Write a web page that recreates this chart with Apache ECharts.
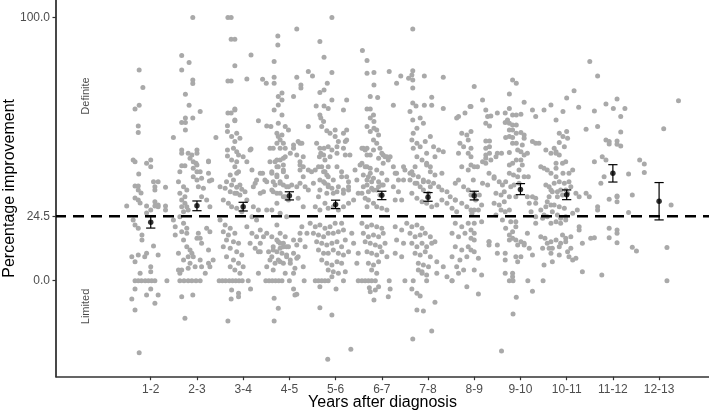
<!DOCTYPE html>
<html>
<head>
<meta charset="utf-8">
<script src="https://cdn.jsdelivr.net/npm/echarts@6/dist/echarts.min.js"></script>
<style>
  html, body { margin: 0; padding: 0; background: #fff; }
  #chart { width: 709px; height: 414px; }
</style>
</head>
<body>
<div id="chart"></div>
<script>
// categories and summary values
const cats = ['1-2', '2-3', '3-4', '4-5', '5-6', '6-7', '7-8', '8-9', '9-10', '10-11', '11-12', '12-13'];
const meanVals = [22.2, 28.5, 28.1, 32.3, 29.0, 32.5, 31.7, 32.3, 34.7, 32.7, 40.8, 30.2];
const lowVals = [20.0, 26.6, 26.5, 30.7, 27.4, 30.8, 30.2, 30.7, 32.7, 30.8, 37.5, 23.1];
const highVals = [24.4, 30.3, 29.8, 33.8, 30.6, 34.0, 33.5, 34.0, 36.9, 34.5, 44.1, 37.3];
const yTicks = [0, 24.5, 100];
const refLine = 24.5;

// individual patients, [jittered x, improvement]
const pts12 = [[0.75,80.1],[0.83,73.4],[0.66,65.3],[0.75,66.7],[0.73,58.8],[0.73,56.3],[0.62,45.9],[0.66,45.2],[0.91,44.6],[1.0,45.9],[1.0,43.3],[0.74,40.6],[0.66,36],[0.73,36],[0.73,34.5],[1.06,37.6],[1.16,37.6],[1.09,35.7],[1.09,34.5],[0.48,28.4],[0.66,31.4],[0.73,30.7],[0.77,29.5],[0.91,28.4],[1.09,28.4],[1.16,28.1],[1.32,35.5],[1.32,28.4],[1.32,26.9],[0.62,23.1],[0.66,21.2],[0.73,19.9],[0.81,17.4],[0.81,15.5],[1.06,13.2],[0.59,9.1],[0.66,7.2],[0.73,9.8],[0.91,10.4],[0.87,9.1],[1.16,9.8],[1.0,5.3],[1.0,3.4],[0.77,2.8],[1.35,0],[0.66,0],[0.73,0],[0.8,0],[0.88,0],[0.95,0],[1.02,0],[1.09,0],[0.66,-3.2],[1.0,-3.2],[0.59,-7],[0.91,-5.4],[1.16,-5.4],[1.09,-8.6],[0.66,-11.1],[0.75,-27.4],[0.79,33.3],[0.91,25.7],[1.0,26.9],[1.16,28.8],[1.09,30]];
const pts23 = [[1.91,100],[1.67,85.6],[1.67,80.1],[1.83,82.9],[1.91,76.3],[1.91,75],[1.75,70.9],[1.83,66.7],[2.07,64.3],[1.75,61.8],[1.91,61.8],[1.67,60.1],[1.75,60.1],[1.75,57.3],[1.49,54.4],[2.41,54.4],[1.67,49.7],[1.67,48.4],[1.81,48.4],[1.89,47.8],[2.0,49.7],[2.0,48.4],[1.85,46.5],[1.92,45.2],[2.0,44],[1.92,42.7],[2.0,41.4],[2.1,38.9],[2.25,45.2],[2.27,37.9],[1.63,41.4],[1.6,37.6],[1.71,35.7],[1.78,34.5],[1.63,33.2],[1.74,31.9],[1.67,30.7],[1.74,29.4],[1.67,28.1],[1.78,28.1],[1.71,26.2],[1.81,26.9],[1.92,39.5],[2.0,38.3],[2.03,35.7],[2.14,35.1],[2.32,38.3],[2.1,31.9],[2.21,30.7],[2.28,28.1],[1.49,23.1],[1.53,20.5],[1.53,17.4],[1.63,24.3],[1.71,21.8],[1.78,19.9],[1.67,18.6],[1.78,18],[1.71,15.5],[1.78,12.9],[1.85,11.7],[1.89,10.4],[1.81,9.1],[1.92,9.1],[1.85,6.6],[1.96,5.3],[2.0,16.1],[2.03,18],[2.1,14.2],[2.21,19.9],[2.28,18.6],[1.6,10.4],[1.71,7.9],[1.63,2.8],[1.6,4.1],[2.07,7.9],[2.1,5.3],[2.25,6.6],[2.28,5.3],[1.63,0],[1.72,0],[1.81,0],[1.89,0],[1.98,0],[2.07,0],[2.18,2.8],[1.67,-6.1],[1.91,-5.4],[1.74,-14.3],[2.25,11.7],[2.35,7.9],[2.07,16.1],[1.67,4.1],[1.81,4.7],[2.25,45.5],[2.07,41.4],[2.25,40.8],[1.67,43.7],[1.74,43.7],[1.98,44.6]];
const pts34 = [[2.67,100],[2.74,100],[2.74,91.8],[2.82,91.8],[2.82,81.7],[2.74,75.9],[2.67,75.9],[3.17,85.8],[3.08,76.7],[2.82,65.3],[2.82,61.1],[2.9,47.8],[3.0,47.1],[3.08,45.2],[2.82,43.3],[2.86,40.8],[2.79,38.3],[2.93,36.4],[3.04,33.8],[2.86,33.2],[2.67,63.7],[2.74,63.7],[2.82,64.9],[3.17,50.1],[2.66,58.9],[2.82,60.8],[2.66,56.7],[2.75,54.8],[2.86,56],[2.82,52.9],[2.93,54.1],[2.79,50.3],[2.86,49],[2.66,49.7],[2.66,47.4],[2.75,45.9],[2.86,45.2],[2.9,41.4],[2.72,40.2],[2.64,37.6],[2.75,36.4],[2.86,35.5],[2.97,34.8],[2.5,35.7],[2.61,35.1],[2.72,33.8],[2.82,33.2],[2.93,32.6],[2.57,30.7],[2.68,29.4],[2.75,28.1],[2.86,27.5],[2.97,26.2],[3.15,49.7],[3.19,42.1],[3.29,38.3],[3.37,33.2],[3.22,35.7],[3.08,30.7],[3.22,28.1],[3.33,26.9],[3.19,24.3],[3.29,23.1],[2.5,23.1],[2.61,21.2],[2.72,19.9],[2.57,18.6],[2.68,17.4],[2.82,18],[2.64,15.5],[2.79,14.8],[2.9,14.2],[2.57,12.9],[2.72,12.3],[2.86,11],[2.97,9.8],[2.64,9.1],[2.79,7.9],[2.9,6.6],[3.0,5.3],[2.82,4.1],[2.93,2.8],[2.72,5.3],[3.08,20.5],[3.19,18],[3.29,16.7],[3.15,14.2],[3.26,12.3],[3.37,11],[2.48,0],[2.55,0],[2.62,0],[2.7,0],[2.77,0],[2.84,0],[2.91,0],[2.98,0],[3.11,0],[3.33,2.8],[2.75,-3.5],[2.9,-4.8],[2.74,-7],[2.9,-6.1],[2.67,-15.3],[3.16,-3.2]];
const pts45 = [[3.75,93],[3.75,89.6],[4.16,95.7],[3.67,83.3],[3.42,76.6],[3.5,75.1],[3.67,77.3],[3.67,75.1],[3.84,71.3],[3.76,70],[3.84,68.7],[3.76,66.8],[4.09,70],[4.16,77.3],[4.25,74.4],[4.25,73.2],[3.67,64.9],[3.84,63],[3.76,59.8],[3.91,58.6],[3.98,57.3],[3.33,60.8],[3.51,58.8],[3.6,58.6],[3.73,56],[3.76,54.8],[3.84,55.4],[3.8,53.5],[3.73,52.2],[3.87,52.2],[3.58,50.3],[3.65,50.3],[3.8,50.3],[3.91,50.3],[4.09,50.3],[4.09,51.6],[4.23,52.2],[4.02,48.4],[4.16,47.8],[4.3,47.1],[3.58,45.2],[3.69,45.2],[3.8,45.9],[3.91,47.1],[3.76,43.3],[3.87,42.1],[4.23,44],[4.23,42.1],[4.3,39.5],[3.62,40.8],[3.73,39.5],[3.8,37.6],[3.69,36.4],[3.87,36.4],[3.98,35.7],[3.65,33.8],[3.8,33.2],[3.91,31.9],[3.51,37.6],[3.37,40.8],[3.26,37],[3.44,33.8],[3.42,40.8],[4.05,36.4],[4.16,35.7],[4.41,34.5],[3.73,45.9],[3.87,46.5],[3.73,43.3],[3.87,44],[3.62,41.4],[3.73,40.2],[3.87,41.4],[3.94,39.5],[3.65,37.6],[3.8,37],[3.94,35.7],[3.62,34.5],[3.73,33.2],[3.87,31.9],[3.98,30.7],[3.73,29.4],[3.62,26.9],[3.8,25.6],[3.94,24.3],[3.47,38.3],[3.51,26.9],[3.37,19.3],[3.51,18],[3.62,16.7],[3.73,15.5],[3.8,14.2],[3.87,12.9],[3.94,12.9],[3.65,12.9],[3.73,11],[3.84,10.4],[3.94,9.8],[3.62,9.1],[3.76,7.9],[3.87,6.6],[4.02,7.9],[4.09,10.4],[3.51,5.3],[3.65,4.1],[3.91,2.8],[4.09,2.8],[3.73,21.2],[3.8,18],[3.91,16.7],[3.76,14.8],[3.87,14.2],[3.98,12.9],[3.8,12.3],[3.65,11.7],[3.55,11],[4.09,15.5],[4.16,13.6],[3.44,16.7],[3.37,14.2],[3.33,11],[3.58,7.9],[3.69,6.6],[3.8,7.2],[3.94,9.1],[4.02,6.6],[4.12,4.7],[4.16,8.5],[4.23,18],[4.19,52.9],[4.27,52.2],[4.41,58.6],[4.23,45.2],[4.3,43.3],[4.41,42.1],[4.23,37],[4.34,35.7],[4.19,31.3],[4.3,28.1],[4.27,20.5],[4.38,18],[4.23,15.5],[4.34,12.9],[4.19,9.1],[4.3,5.3],[3.49,0],[3.56,0],[3.63,0],[3.7,0],[3.77,0],[3.84,0],[4.0,0],[4.32,0],[3.67,-6.7],[3.76,-10.5],[3.67,-15.3],[4.09,-3.2],[4.16,-5.2],[4.12,-5.4]];
const pts56 = [[4.92,100],[4.66,90.9],[4.75,84.9],[4.41,79.5],[4.5,77.8],[4.66,71.5],[4.75,72.5],[4.82,75.1],[4.92,79.1],[4.58,66.4],[4.75,66.4],[4.84,65.5],[4.92,68.7],[4.66,63],[4.68,61.8],[4.74,60.5],[4.7,58.6],[4.81,57],[4.59,52.2],[4.66,50.3],[4.75,50.3],[4.84,50.9],[4.68,48.4],[4.65,47.1],[4.77,45.9],[4.88,47.1],[4.92,49.7],[4.99,54.8],[5.03,50.9],[5.17,50.3],[5.24,53.5],[5.17,64.9],[5.24,68.7],[4.99,57.3],[5.03,48.4],[5.21,47.8],[5.31,47.8],[4.63,43.3],[4.74,41.4],[4.81,40.2],[4.66,38.3],[4.77,37],[4.66,34.5],[4.84,35.7],[4.95,38.3],[5.13,39.5],[5.24,39.5],[5.03,33.8],[5.17,33.2],[5.28,35.7],[4.48,41.4],[4.88,56],[5.06,52.9],[5.21,52.9],[5.17,56],[5.24,57.3],[4.74,47.8],[4.7,43.3],[4.84,43.3],[4.77,41.4],[4.84,39.5],[4.74,37.6],[4.84,36.4],[4.92,35.1],[4.81,33.2],[4.95,33.2],[5.03,43.3],[5.13,41.4],[5.28,37.6],[5.06,35.7],[5.17,34.5],[5.28,34.5],[4.56,42.1],[4.52,37],[4.63,31.9],[4.56,28.1],[4.66,26.9],[4.77,29.4],[4.84,27.5],[4.95,28.1],[5.06,26.9],[5.17,28.1],[5.28,29.4],[5.42,42.1],[5.46,38.3],[5.49,33.2],[5.39,30.7],[4.45,21.8],[4.56,20.5],[4.66,21.2],[4.77,19.9],[4.88,20.5],[4.99,21.8],[5.13,21.8],[4.52,18],[4.63,17.4],[4.74,16.7],[4.84,18],[4.95,18],[5.06,18.6],[5.17,19.3],[4.59,14.8],[4.7,14.2],[4.81,13.6],[4.92,14.2],[5.03,14.8],[5.13,12.9],[5.21,15.5],[4.63,11.7],[4.74,10.4],[4.84,10.4],[4.95,11.7],[5.06,10.4],[5.17,9.8],[5.28,11],[4.7,7.9],[4.81,6.6],[4.92,6],[5.03,7.2],[5.13,6.6],[4.84,4.1],[4.95,3.4],[5.06,2.8],[5.21,3.4],[4.92,1.5],[5.35,18],[5.39,14.2],[5.49,10.4],[5.46,6.6],[4.56,0],[4.63,0],[4.7,0],[4.77,0],[4.84,0],[5.17,0],[4.66,-2.3],[5.01,-3.2],[4.66,-10.3],[4.92,-13],[5.33,-26.1],[4.83,-29.9]];
const pts67 = [[5.58,87.5],[5.68,83.7],[5.68,78.9],[5.83,79.1],[5.83,74.4],[6.16,79.5],[6.25,66.7],[5.75,70],[5.91,69.6],[5.68,65.3],[5.75,65.3],[5.82,63],[5.75,61.8],[5.83,60.5],[5.68,58.6],[5.75,56.7],[5.83,57.9],[5.89,57.3],[5.93,55.4],[5.82,53.5],[5.89,52.2],[5.96,50.3],[5.82,49.7],[5.75,47.8],[5.93,46.5],[6.03,47.8],[6.11,47.1],[5.68,50.3],[5.6,50.3],[5.68,47.8],[5.57,44.6],[5.68,43.3],[5.75,40.8],[5.6,40.2],[5.68,38.3],[5.78,37.6],[5.89,42.1],[6.0,40.8],[5.6,35.7],[5.71,33.8],[5.82,34.5],[5.93,35.7],[6.03,36.4],[6.11,38.3],[6.18,47.1],[6.25,43.3],[6.32,40.8],[6.0,48.4],[6.07,47.1],[6.14,45.9],[6.03,44.6],[5.57,50.3],[5.64,49.7],[5.53,44],[5.64,43.3],[5.75,42.7],[5.71,39.5],[5.82,38.9],[5.93,37.6],[6.0,36.4],[5.68,36.4],[5.78,35.1],[5.89,34.5],[5.96,32.6],[5.57,33.2],[5.64,31.3],[5.71,30.7],[5.82,29.4],[5.89,28.1],[5.68,28.1],[6.0,27.5],[6.11,26.9],[6.29,40.8],[6.36,38.3],[6.25,35.7],[6.36,33.8],[6.29,30.7],[6.43,30.7],[5.57,21.8],[5.68,20.5],[5.78,21.2],[5.89,20.5],[6.0,19.9],[5.6,18],[5.71,16.7],[5.82,17.4],[5.93,16.7],[6.03,18],[5.64,14.8],[5.75,14.2],[5.86,13.6],[5.96,12.9],[6.07,14.2],[5.68,11],[5.78,10.4],[5.89,9.8],[6.0,11],[6.11,9.1],[5.71,6.6],[5.82,6],[5.93,7.2],[5.78,4.1],[5.89,2.8],[5.49,0],[5.57,0],[5.64,0],[5.71,0],[5.78,0],[5.86,0],[6.16,0],[5.86,-3.5],[5.75,-4.2],[6.14,-6.1],[6.29,20.5],[6.43,19.3],[6.32,15.5],[6.47,14.2],[6.29,10.4],[6.43,9.1],[5.73,-2.7],[5.93,-2.3],[5.83,-7.3],[6.18,-3.2]];
const pts78 = [[6.67,95.7],[6.67,79.8],[6.65,78.2],[6.67,76.3],[6.67,73.2],[6.58,77],[6.41,77.8],[6.32,75.1],[6.92,77.8],[7.33,77.3],[7.08,69.7],[7.08,66.7],[6.92,66.7],[7.33,65.5],[6.67,67.5],[6.74,66.4],[6.61,64.3],[6.83,61.8],[6.67,61.1],[6.9,59.8],[6.76,57.9],[6.68,56],[6.65,53.5],[6.76,52.2],[6.68,50.3],[6.83,50.9],[6.94,52.9],[7.05,54.8],[7.12,50.9],[7.23,49.7],[6.97,48.4],[6.76,47.1],[6.87,45.9],[6.97,44.6],[7.15,47.1],[7.33,49],[7.05,43.3],[6.72,43.3],[6.61,40.8],[6.47,38.3],[6.61,38.3],[6.76,37],[6.9,37.6],[7.05,35.7],[6.47,43.3],[6.5,42.1],[6.65,41.4],[6.68,40.2],[6.79,39.5],[6.9,38.3],[7.01,37.6],[7.12,37],[7.23,35.7],[7.3,34.5],[7.41,33.8],[7.48,31.9],[7.59,30.7],[6.97,44],[7.05,41.4],[7.15,40.2],[7.3,40.8],[6.72,37],[6.83,35.7],[6.9,34.5],[7.01,33.2],[6.65,33.2],[6.76,31.3],[6.87,30],[6.97,29.4],[7.08,28.1],[7.19,28.8],[7.3,30.7],[7.41,29.4],[7.52,27.5],[7.62,26.2],[6.54,21.8],[6.65,20.5],[6.76,21.2],[6.87,19.9],[6.61,18],[6.72,16.7],[6.83,17.4],[6.94,18],[7.05,16.7],[6.65,14.2],[6.76,12.9],[6.87,14.2],[6.97,12.9],[7.08,14.2],[7.15,14.8],[6.72,10.4],[6.83,9.8],[6.94,11],[7.05,9.1],[6.79,6.6],[6.9,6],[7.01,5.3],[6.87,2.8],[6.97,2.2],[7.19,7.2],[7.33,5.3],[7.41,1.5],[7.19,2.8],[6.79,4.1],[6.87,3.4],[6.5,0],[6.68,0],[6.97,0],[7.52,0],[6.65,-3.2],[6.76,-4.8],[6.83,-5.8],[6.76,-11.1],[6.9,-11.5],[7.15,-8.2],[7.08,-19.1],[6.67,-22.2]];
const pts89 = [[8.0,73.8],[8.18,68.7],[7.93,66.2],[8.25,64.9],[8.29,62.4],[8.36,62.6],[8.25,59.8],[8.33,58.8],[7.93,56.7],[8.25,53.1],[8.33,53.1],[7.93,50.3],[8.25,50.3],[8.33,50.9],[7.93,47.1],[8.25,47.8],[8.33,48.4],[7.93,44],[8.0,43.3],[8.07,43.3],[8.18,45.2],[8.25,46.5],[8.32,40.8],[8.43,39.5],[8.18,37],[8.29,36.4],[8.0,33.2],[8.11,32.6],[7.93,32.6],[8.03,30.7],[8.0,21.8],[7.93,19.3],[8.0,18],[7.93,16.1],[8.0,15.5],[7.93,11.7],[8.0,11],[8.09,8.5],[8.0,4.1],[8.16,2.2],[8.09,-5.1],[8.16,22.4],[8.09,26.9],[8.16,28.8],[8.0,26.9],[7.93,26.9],[8.32,14.8],[8.32,13.6],[7.66,62.4],[7.8,63.7],[7.91,66.2],[7.73,56],[7.87,53.5],[7.77,50.9],[7.66,48.4],[7.87,48.4],[7.73,43.3],[7.87,42.1],[7.98,38.3],[7.66,38.3],[7.59,37],[7.77,35.7],[7.87,34.5],[7.59,30.7],[7.73,29.4],[7.84,28.1],[7.95,25.6],[7.59,21.8],[7.73,20.5],[7.87,21.8],[7.52,18],[7.66,16.7],[7.8,18],[7.59,12.9],[7.73,11.7],[7.87,12.9],[7.52,9.1],[7.69,7.9],[7.84,9.1],[7.62,5.3],[7.77,4.1],[7.52,0],[7.66,2.8],[7.84,-2.3],[7.69,52.2],[7.84,55.4],[7.62,61.8]];
const pts910 = [[8.83,76.3],[8.91,75.1],[8.76,71],[9.08,67.8],[8.5,63.7],[8.67,63.7],[8.76,65.5],[8.83,63],[8.91,63],[9.01,63.3],[8.67,60.1],[8.76,59.8],[8.83,59.2],[8.91,59.2],[8.72,61.1],[8.76,57.3],[8.83,57.3],[8.76,54.8],[8.68,54.4],[8.83,54.4],[8.91,56],[9.01,56.3],[9.08,55.4],[9.08,54.1],[8.83,52.2],[8.91,52.2],[9.04,51.6],[8.5,48.4],[8.59,48.4],[8.76,48.7],[8.94,49.7],[9.01,49],[9.08,47.8],[9.15,48.4],[8.25,44.6],[8.36,45.9],[8.47,47.1],[8.76,44],[8.83,44.6],[8.91,45.9],[9.01,45.9],[9.04,44],[8.97,42.1],[8.76,40.8],[8.85,40.2],[8.94,39.5],[9.08,39.5],[9.17,39.5],[9.26,64.9],[9.33,62.4],[9.26,52.9],[9.33,52.2],[9.4,52.2],[9.51,64.9],[9.66,66.8],[9.55,49.7],[9.66,48.4],[9.77,49],[9.44,43.3],[9.51,42.7],[9.58,42.1],[9.66,40.8],[8.61,36.4],[8.68,37.6],[8.79,35.7],[8.86,36.4],[8.97,37],[8.43,38.9],[8.54,37.6],[8.65,33.8],[8.76,31.9],[8.9,31.9],[8.47,33.2],[8.58,32.6],[9.55,36.4],[9.62,35.7],[9.66,34.5],[9.73,37],[9.8,33.8],[9.15,31.9],[9.26,31.9],[9.33,31.3],[8.43,29.4],[8.54,28.8],[8.65,30],[8.58,26.9],[8.67,26.2],[8.76,26.9],[8.47,25],[8.61,23.1],[8.79,22.4],[8.9,22.4],[8.68,19.9],[8.76,17.4],[8.83,16.1],[8.76,15.5],[8.9,15.5],[9.01,14.8],[9.08,13.6],[8.94,13.6],[8.83,18.6],[8.9,20.5],[8.32,14.8],[8.5,13.6],[8.5,10.4],[8.67,10.4],[8.67,7.9],[8.67,2.8],[8.83,2.8],[8.83,1.5],[8.76,0],[8.84,0],[9.16,0],[9.26,-4],[8.91,-6.3],[8.84,-12.7],[8.59,-26.7],[8.9,9.1],[8.94,7.2],[9.01,9.1],[9.08,14.2],[9.15,18],[9.19,12.3],[9.26,9.8],[9.33,21.8],[9.44,16.7],[9.53,16.1],[9.58,14.2],[9.66,14.8],[9.48,12.3],[9.62,12.3],[9.51,6],[9.69,7.2],[9.49,0],[9.19,29.4],[9.23,26.2],[9.33,24.3],[9.48,23.7],[9.58,24.3],[9.66,28.8],[9.58,30],[9.55,28.1],[9.62,31.9],[9.69,33.8],[9.33,29.4],[9.44,26.9],[9.51,25]];
const pts1011 = [[10.16,72.2],[10.0,69.4],[10.26,65.9],[9.92,64.3],[9.77,61.1],[9.84,56],[9.92,54.8],[10.0,56.7],[10.02,54.1],[9.84,52.5],[9.73,50.3],[9.77,48.4],[9.84,47.8],[9.95,50.9],[9.77,44.6],[9.91,44.6],[9.98,45.2],[9.77,42.7],[9.92,40.8],[10.05,40.8],[10.13,42.1],[10.42,57.6],[10.67,58.6],[10.6,64.5],[9.77,39.5],[9.84,37.6],[9.95,37],[10.05,37.6],[10.09,35.7],[9.98,34.5],[9.87,34.5],[10.2,33.2],[10.27,31.9],[10.42,33.2],[10.49,31.9],[10.6,45.2],[10.77,47.1],[10.85,45.9],[10.81,39.5],[10.74,37],[9.8,31.9],[9.91,32.6],[10.02,33.2],[9.73,28.8],[9.84,28.1],[9.95,27.5],[9.69,26.2],[9.8,25],[9.87,23.7],[9.98,24.3],[10.13,25.6],[10.23,26.9],[9.66,21.8],[9.77,22.4],[9.87,21.8],[9.98,23.1],[10.27,20.5],[10.27,19.3],[10.09,16.7],[9.91,17.4],[9.98,16.1],[9.77,15.5],[9.87,14.2],[9.98,14.8],[9.84,12.9],[9.69,12.3],[9.66,10.4],[9.84,9.8],[10.02,11],[10.05,9.1],[10.2,8.5],[10.34,14.2],[10.52,16.1],[10.6,16.3],[10.67,28.1],[10.67,26.9],[10.09,12.3],[10.13,7.9],[10.34,3.4],[10.76,2.2]];
const pts1112 = [[10.5,83.3],[10.67,77.8],[10.85,67.2],[11.09,69.1],[11.01,65.5],[11.26,65.5],[11.17,62.4],[11.17,56.5],[10.85,53.5],[10.92,52.9],[10.92,52],[11.17,51.2],[11.09,53.1],[11.09,51.9],[11.34,40.6],[11.58,45.9],[11.68,44.4],[11.68,41.1],[11.42,32.6],[11.09,31.9],[10.92,31],[11.09,32.2],[11.09,30],[11.34,25.9],[10.92,19.9],[10.92,16.3],[11.09,19.3],[11.09,18],[11.09,14.4],[11.42,12.7],[11.51,11.3]];
const pts1213 = [[12.42,68.4],[12.1,57.8],[12.26,28.8],[12.17,12.6],[12.17,0]];

const allPts = [].concat(pts12, pts23, pts34, pts45, pts56, pts67, pts78, pts89, pts910, pts1011, pts1112, pts1213);

const chart = echarts.init(document.getElementById('chart'));
const font = "'Liberation Sans', Arial, sans-serif";

const option = {
  animation: false,
  grid: { left: 56, right: 0, top: 0, bottom: 37.3, outerBoundsMode: 'none', containLabel: false },
  xAxis: {
    type: 'value',
    min: -1.05,
    max: 13.08,
    name: 'Years after diagnosis',
    nameLocation: 'middle',
    nameGap: 18,
    nameMoveOverlap: false,
    nameTextStyle: { fontSize: 16, color: '#000', fontFamily: font, verticalAlign: 'top' },
    axisLine: { onZero: false, lineStyle: { color: '#333', width: 1.6 } },
    axisTick: { show: true, length: 3.5, customValues: cats.map((c, i) => i + 1), lineStyle: { color: '#333', width: 1.2 } },
    axisLabel: {
      customValues: cats.map((c, i) => i + 1),
      formatter: v => cats[Math.round(v) - 1],
      fontSize: 12, color: '#4d4d4d', fontFamily: font, margin: 7
    },
    splitLine: { show: false }
  },
  yAxis: {
    type: 'value',
    min: -36.5,
    max: 106.7,
    name: 'Percentage improvement',
    nameLocation: 'middle',
    nameGap: 38,
    nameMoveOverlap: false,
    nameTextStyle: { fontSize: 16, color: '#000', fontFamily: font },
    axisLine: { show: true, onZero: false, lineStyle: { color: '#1a1a1a', width: 1.6 } },
    axisTick: { show: true, length: 3.5, customValues: yTicks, lineStyle: { color: '#333', width: 1.2 } },
    axisLabel: {
      customValues: yTicks,
      formatter: v => v.toFixed(1),
      fontSize: 12, color: '#4d4d4d', fontFamily: font, margin: 6
    },
    splitLine: { show: false }
  },
  series: [
    {
      type: 'scatter',
      data: allPts,
      symbolSize: 5,
      itemStyle: { color: '#a9a9a9', opacity: 1 },
      silent: true,
      z: 2
    },
    {
      type: 'line',
      data: [[-1.05, refLine], [13.08, refLine]],
      symbol: 'none',
      lineStyle: { color: '#000', width: 2.6, type: [11, 7], dashOffset: 1 },
      silent: true,
      z: 3
    },
    {
      type: 'custom',
      data: cats.map((c, i) => [i + 1, lowVals[i], highVals[i]]),
      renderItem: function (params, api) {
        const x = api.value(0);
        const lo = api.coord([x, api.value(1)]);
        const hi = api.coord([x, api.value(2)]);
        const w = api.size([0.1, 0])[0];
        const st = { stroke: '#000', lineWidth: 1.2 };
        return {
          type: 'group',
          children: [
            { type: 'line', shape: { x1: hi[0], y1: hi[1], x2: lo[0], y2: lo[1] }, style: st },
            { type: 'line', shape: { x1: hi[0] - w, y1: hi[1], x2: hi[0] + w, y2: hi[1] }, style: st },
            { type: 'line', shape: { x1: lo[0] - w, y1: lo[1], x2: lo[0] + w, y2: lo[1] }, style: st }
          ]
        };
      },
      silent: true,
      z: 4
    },
    {
      type: 'scatter',
      data: meanVals.map((m, i) => [i + 1, m]),
      symbolSize: 5.5,
      itemStyle: { color: '#000' },
      silent: true,
      z: 5
    },
    {
      type: 'scatter',
      data: [
        { value: [-0.40, 70.2], name: 'Definite' },
        { value: [-0.40, -9.8], name: 'Limited' }
      ],
      symbolSize: 0,
      label: {
        show: true,
        position: 'inside',
        rotate: 90,
        formatter: p => p.name,
        fontSize: 11,
        color: '#1a1a1a',
        fontFamily: font
      },
      silent: true,
      z: 5
    }
  ]
};

chart.setOption(option);
</script>
</body>
</html>
